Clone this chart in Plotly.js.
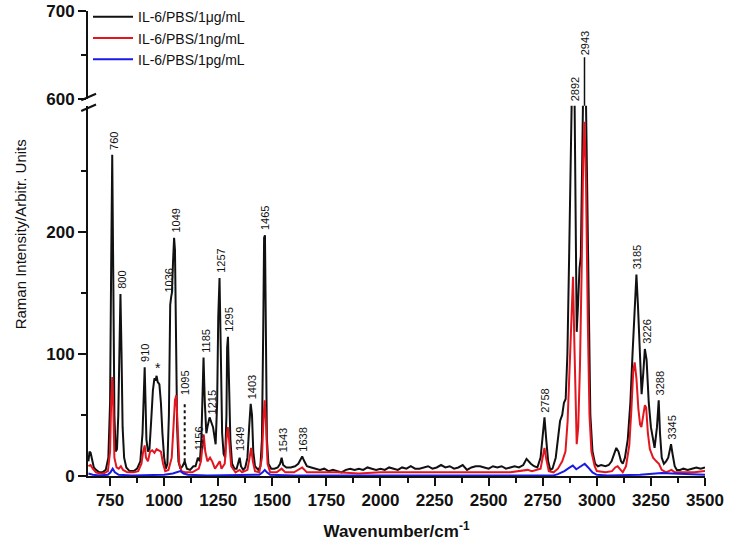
<!DOCTYPE html>
<html>
<head>
<meta charset="utf-8">
<script src="https://cdn.plot.ly/plotly-3.0.1.min.js"></script>
<style>html,body{margin:0;padding:0;background:#fff;}#chart{width:730px;height:546px;}</style>
</head>
<body>
<div id="chart"></div>
<script>
// ---- Data ----
const seriesNames = ["IL-6/PBS/1μg/mL", "IL-6/PBS/1ng/mL", "IL-6/PBS/1pg/mL"];

const blackWn = [650,655,660,667,675,685,700,715,730,742,750,755,760,765,770,776,782,788,793,798,803,808,815,825,840,860,875,890,900,906,910,914,918,925,932,940,948,955,960,965,970,978,985,992,1000,1008,1015,1022,1028,1032,1036,1041,1046,1050,1055,1060,1066,1075,1085,1095,1105,1120,1135,1145,1156,1165,1172,1178,1182,1188,1195,1200,1210,1218,1226,1238,1245,1250,1256,1262,1268,1275,1282,1288,1291,1295,1300,1306,1314,1325,1335,1342,1349,1355,1365,1375,1385,1393,1400,1406,1412,1420,1435,1445,1452,1458,1462,1466,1470,1475,1482,1495,1510,1525,1536,1543,1550,1565,1585,1605,1620,1630,1638,1648,1660,1680,1700,1720,1740,1760,1780,1800,1820,1840,1860,1880,1900,1920,1940,1960,1980,2000,2020,2040,2060,2080,2100,2120,2140,2160,2180,2200,2220,2240,2260,2280,2300,2320,2340,2360,2380,2400,2420,2440,2460,2480,2500,2520,2540,2560,2580,2600,2620,2640,2660,2675,2685,2695,2710,2725,2740,2750,2758,2766,2775,2785,2795,2810,2820,2830,2840,2848,2856,2864,2872,2880,2886,2896,2902,2907,2913,2920,2926,2932,2938,2948,2955,2962,2970,2980,2992,3005,3020,3040,3055,3068,3080,3090,3100,3112,3120,3130,3143,3155,3165,3175,3183,3190,3200,3207,3215,3222,3230,3240,3250,3260,3267,3278,3286,3292,3300,3310,3320,3330,3337,3343,3350,3360,3370,3385,3400,3420,3440,3460,3480,3500];
const blackVal = [12,20,19,12,7,5,3,3,5,15,60,170,263,160,50,20,22,50,110,149,100,40,15,7,4,4,6,12,35,75,89,60,30,20,22,45,70,80,78,82,77,75,60,35,15,6,10,50,140,146,150,175,195,185,110,40,12,6,8,12,6,5,8,8,15,12,30,80,97,60,35,40,48,44,40,26,60,130,162,100,35,18,15,50,105,114,80,30,10,6,6,10,15,8,5,7,15,40,59,50,20,8,5,8,30,120,195,197,110,30,10,6,6,7,10,15,9,7,7,8,10,14,16,12,8,7,6,5,6,4,5,4,3,5,6,5,6,5,7,6,5,6,5,7,6,5,7,6,8,6,6,7,8,6,7,9,7,8,6,7,9,5,7,8,8,7,6,8,7,8,6,7,8,7,9,14,12,10,8,7,15,35,48,30,12,5,6,15,30,45,50,60,63,100,180,290,330,330,180,118,140,170,180,260,330,330,230,120,50,20,10,8,9,8,9,12,18,23,20,12,10,15,30,60,100,140,165,140,90,67,85,104,95,60,40,28,23,40,62,35,15,10,12,15,20,26,18,8,5,5,6,5,6,7,6,7];

const redWn = [650,660,670,685,700,720,740,750,755,760,765,770,780,790,800,810,830,860,880,895,903,910,916,925,935,945,955,965,975,985,995,1005,1020,1035,1043,1050,1056,1062,1070,1080,1100,1130,1150,1160,1170,1178,1183,1190,1200,1212,1222,1235,1250,1257,1265,1280,1288,1294,1300,1310,1330,1349,1360,1385,1395,1402,1410,1420,1440,1452,1460,1465,1470,1478,1490,1520,1543,1560,1600,1638,1660,1700,1800,1900,2000,2100,2200,2300,2400,2500,2600,2680,2700,2740,2750,2758,2766,2778,2800,2820,2840,2855,2865,2875,2884,2890,2896,2902,2907,2914,2922,2930,2937,2943,2950,2958,2966,2975,2990,3000,3040,3070,3085,3096,3108,3120,3135,3150,3160,3168,3175,3183,3192,3200,3206,3214,3222,3228,3236,3245,3260,3275,3287,3300,3320,3345,3360,3400,3450,3500];
const redVal = [8,9,6,3,2,2,4,20,60,81,55,15,7,6,8,5,3,3,4,10,20,25,15,12,20,21,19,22,21,20,10,4,5,15,40,62,66,40,10,4,3,3,5,6,12,28,34,20,12,15,12,6,10,12,6,10,30,40,30,8,3,5,3,5,15,23,12,4,3,15,50,62,45,10,3,3,6,3,3,7,3,3,3,2,3,3,3,3,3,3,3,5,4,6,15,23,14,4,3,6,12,20,45,90,140,163,110,50,26,40,90,170,260,290,240,130,50,20,8,4,3,4,7,8,5,3,8,25,55,85,93,80,55,42,40,50,58,56,35,22,15,12,10,5,3,5,3,3,3,4];

const blueWn = [650,670,700,740,752,762,772,790,850,950,1000,1040,1060,1075,1090,1110,1200,1300,1440,1455,1465,1475,1490,1600,2000,2400,2800,2820,2850,2875,2889,2905,2925,2944,2960,2980,3000,3050,3200,3250,3300,3350,3400,3500];
const blueVal = [2,1,0.5,1,3,6,3,1,0.5,1,1,2,3.5,4,2,1,0.5,0.5,1,3,5,3,1,0.5,0.5,0.5,0.5,1.5,4,7,8.5,5.5,8,10,7,3,1,0.5,1,2,2.5,2,1.5,1];

// peak labels: wavenumber, height of the label base
const labelWn   = [760,800,910,1036,1049,1095,1156,1185,1215,1257,1295,1349,1403,1465,1543,1638,2758,2892,3185,3226,3288,3345];
const labelBase = [263,149,89,146,195,62,17,97,46,162,114,16,59,197,15,16,48,303,165,104,62,26];
// leader lines
const dotLeaderWn = 1095, dotLeaderY = [12, 60];
const topLabelWn = 2943, topLabelBase = 303;
const starWn = 972, starBase = 82;

// y-axis break
const lowerRange = [0, 303], upperRange = [600, 700];
const lowerDomain = [0, 0.796], upperDomain = [0.811, 1];

const FONT = "Liberation Sans, Arial, Helvetica, sans-serif";
const colors = ["#111111", "#e3161f", "#1a1ae6"];

const traces = [
  {x: blackWn, y: blackVal, name: seriesNames[0], type: "scatter", mode: "lines", line: {color: colors[0], width: 2}},
  {x: redWn, y: redVal, name: seriesNames[1], type: "scatter", mode: "lines", line: {color: colors[1], width: 2}},
  {x: blueWn, y: blueVal, name: seriesNames[2], type: "scatter", mode: "lines", line: {color: colors[2], width: 2}},
  {x: [dotLeaderWn, dotLeaderWn], y: dotLeaderY, type: "scatter", mode: "lines", showlegend: false, hoverinfo: "skip", line: {color: "#111", width: 2, dash: "dot"}},
  {x: [650], y: [650], xaxis: "x", yaxis: "y2", type: "scatter", mode: "markers", marker: {opacity: 0}, showlegend: false, hoverinfo: "skip"}
];

const annotations = labelWn.map((w, i) => ({
  x: w, y: labelBase[i], xref: "x", yref: "y", text: String(w), showarrow: false,
  textangle: -90, xanchor: "center", yanchor: "bottom", yshift: 3, xshift: (w === 1036 ? -3 : 1),
  font: {family: FONT, size: 11, color: "#111"}
}));
annotations.push({
  x: topLabelWn, y: topLabelBase, xref: "x", yref: "y", text: String(topLabelWn), showarrow: true,
  arrowhead: 0, arrowwidth: 1.5, arrowcolor: "#111", ax: 0, ay: -62, textangle: -90,
  font: {family: FONT, size: 11, color: "#111"}
});
annotations.push({
  x: starWn, y: starBase, xref: "x", yref: "y", text: "*", showarrow: false,
  xanchor: "center", yanchor: "bottom", yshift: -2, font: {family: FONT, size: 14, color: "#111"}
});
annotations.push({
  x: -0.11, y: 0.52, xref: "paper", yref: "paper", text: "Raman Intensity/Arbitr. Units",
  showarrow: false, textangle: -90, xanchor: "center", yanchor: "middle",
  font: {family: FONT, size: 15, color: "#111"}
});

// axis-break marks
const shapes = [];
[lowerDomain[1] - 0.004, upperDomain[0] + 0.004].forEach(yc => {
  shapes.push({type: "line", xref: "paper", yref: "paper", x0: -0.011, x1: 0.013, y0: yc - 0.007, y1: yc + 0.007,
    line: {color: "#111", width: 2}});
});

const tickFont = {family: FONT, size: 17, color: "#111", weight: "bold"};

const layout = {
  width: 730, height: 546,
  margin: {l: 88, r: 25, t: 11, b: 70, autoexpand: false},
  paper_bgcolor: "#fff", plot_bgcolor: "#fff",
  showlegend: true,
  legend: {x: 0.0, y: 1.021, xanchor: "left", yanchor: "top", bgcolor: "rgba(0,0,0,0)",
    itemwidth: 40, font: {family: FONT, size: 14, color: "#111"}, tracegroupgap: 0},
  xaxis: {
    range: [648, 3500], domain: [0, 1], anchor: "y", automargin: false, layer: "below traces",
    tick0: 750, dtick: 250, ticks: "outside", ticklen: 8, tickwidth: 2, tickcolor: "#111",
    minor: {dtick: 125, tick0: 750, ticks: "outside", ticklen: 5, tickwidth: 2, tickcolor: "#111"},
    showline: true, linecolor: "#111", linewidth: 2, showgrid: false, zeroline: false,
    tickfont: tickFont,
    title: {text: "Wavenumber/cm<sup>-1</sup>", font: {family: FONT, size: 17, color: "#111", weight: "bold"}, standoff: 16}
  },
  yaxis: {
    range: lowerRange, domain: lowerDomain, anchor: "x", automargin: false,
    tickvals: [0, 100, 200], ticks: "outside", ticklen: 8, tickwidth: 2, tickcolor: "#111",
    minor: {tickvals: [50, 150, 250], ticks: "outside", ticklen: 5, tickwidth: 2, tickcolor: "#111"},
    showline: true, linecolor: "#111", linewidth: 2, showgrid: false, zeroline: false,
    tickfont: tickFont
  },
  yaxis2: {
    range: upperRange, domain: upperDomain, anchor: "x", automargin: false,
    tickvals: [600, 700], ticks: "outside", ticklen: 8, tickwidth: 2, tickcolor: "#111",
    minor: {tickvals: [650], ticks: "outside", ticklen: 5, tickwidth: 2, tickcolor: "#111"},
    showline: true, linecolor: "#111", linewidth: 2, showgrid: false, zeroline: false,
    tickfont: tickFont
  },
  annotations: annotations,
  shapes: shapes
};

Plotly.newPlot("chart", traces, layout, {displayModeBar: false, staticPlot: true});
</script>
</body>
</html>
